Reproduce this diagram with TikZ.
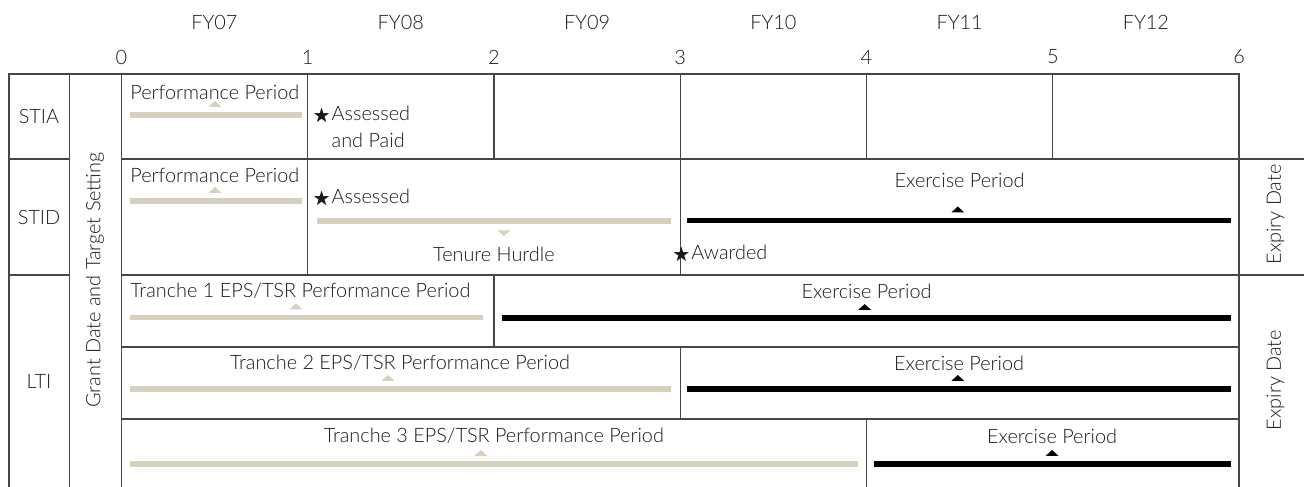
\documentclass[tikz,border=0pt]{standalone}
\usepackage{fontspec}
\setmainfont{Lato Light}
\usepackage{amssymb}
\usetikzlibrary{positioning}
\definecolor{tanbar}{RGB}{214,208,190}
\definecolor{gridgray}{RGB}{70,70,70}
\definecolor{inkgray}{RGB}{25,25,25}
\tikzset{
  cellline/.style={draw=gridgray, line width=0.7pt},
  perf/.style={draw=tanbar, line width=3pt},
  exer/.style={draw=black, line width=3pt},
  lbl/.style={font=\fontsize{11.3}{15.3}\selectfont, text=inkgray, inner sep=0pt},
}
\newcommand{\awardstar}{{\fontsize{10}{10}\selectfont$\bigstar$}}
\newcommand{\uptick}[3]{\fill[#3] (#1,#2) ++(-0.13cm,0.16cm) -- ++(0.26cm,0) -- ++(-0.13cm,0.12cm) -- cycle;}
\newcommand{\downtick}[3]{\fill[#3] (#1,#2) ++(-0.13cm,-0.19cm) -- ++(0.26cm,0) -- ++(-0.13cm,-0.11cm) -- cycle;}

\begin{document}
\begin{tikzpicture}[x=3.726cm, y=-1cm]
    \useasboundingbox (-0.6511,0) rectangle (6.3484,9.74);

    % Years and ticks
    \foreach \t/\fy in {0/07,1/08,2/09,3/10,4/11,5/12}
        \node[lbl] (fy\fy) at (\t+0.5,0.44) {FY\fy};
    \foreach \t in {0,...,6}
        \node[lbl] (tick\t) at (\t,1.14) {\t};

    % Table lines
    \draw[cellline] (-0.6028,9.74) -- (-0.6028,1.48) -- (6,1.48) -- (6,9.74);
    \draw[cellline] (-0.2775,1.48) -- (-0.2775,9.74);
    \draw[cellline] (0,1.48) -- (0,9.74);
    \draw[cellline] (-0.6028,3.18) -- (-0.2775,3.18) (0,3.18) -- (6.3484,3.18);
    \draw[cellline] (-0.6028,5.5) -- (-0.2775,5.5) (0,5.5) -- (6.3484,5.5);
    \draw[cellline] (0,6.94) -- (6,6.94) (0,8.38) -- (6,8.38);
    \foreach \t in {1,...,5}
        \draw[cellline] (\t,1.48) -- (\t,3.18);
    \draw[cellline] (1,3.18) -- (1,5.5) (3,3.18) -- (3,5.5);
    \draw[cellline] (2,5.5) -- (2,6.94) (3,6.94) -- (3,8.38) (4,8.38) -- (4,9.74);

    % Row headings
    \node[lbl] (stia) at (-0.4418,2.33) {STIA};
    \node[lbl] (stid) at (-0.4418,4.34) {STID};
    \node[lbl] (lti) at (-0.4418,7.62) {LTI};
    \node[lbl, rotate=90] (grant) at (-0.141,5.6) {Grant Date and Target Setting};
    \node[lbl, rotate=90] (expD) at (6.195,4.29) {Expiry Date};
    \node[lbl, rotate=90] (expL) at (6.195,7.60) {Expiry Date};

    % STIA
    \node[lbl, anchor=west] (perfA) at (0.047,1.84) {Performance Period};
    \draw[perf] (0.047,2.30) -- (0.970,2.30);
    \uptick{0.503}{2.30}{tanbar}
    \node[lbl, anchor=west, align=left] (assA) at (1.029,2.57)
        {\awardstar\hspace{1pt}Assessed\\\phantom{\awardstar}\hspace{1pt}and Paid};

    % STID
    \node[lbl, anchor=west] (perfD) at (0.047,3.50) {Performance Period};
    \draw[perf] (0.047,4.02) -- (0.970,4.02);
    \uptick{0.503}{4.02}{tanbar}
    \node[lbl, anchor=west] (assD) at (1.029,3.96) {\awardstar\hspace{1pt}Assessed};
    \draw[perf] (1.05,4.42) -- (2.95,4.42);
    \downtick{2.054}{4.42}{tanbar}
    \node[lbl] (tenure) at (2.0,5.08) {Tenure Hurdle};
    \node[lbl] (exD) at (4.5,3.60) {Exercise Period};
    \draw[exer] (3.036,4.41) -- (5.956,4.41);
    \uptick{4.49}{4.41}{black}
    \node[lbl, anchor=west] (awD) at (2.96,5.08) {\awardstar\hspace{1pt}Awarded};

    % LTI tranche 1
    \node[lbl, anchor=west] (tr1) at (0.047,5.82) {Tranche 1 EPS/TSR Performance Period};
    \draw[perf] (0.047,6.35) -- (1.942,6.35);
    \uptick{0.938}{6.35}{tanbar}
    \node[lbl] (ex1) at (4.0,5.82) {Exercise Period};
    \draw[exer] (2.044,6.36) -- (5.956,6.36);
    \uptick{3.99}{6.36}{black}

    % LTI tranche 2
    \node[lbl] (tr2) at (1.496,7.26) {Tranche 2 EPS/TSR Performance Period};
    \draw[perf] (0.047,7.78) -- (2.95,7.78);
    \uptick{1.432}{7.78}{tanbar}
    \node[lbl] (ex2) at (4.497,7.26) {Exercise Period};
    \draw[exer] (3.036,7.78) -- (5.956,7.78);
    \uptick{4.49}{7.78}{black}

    % LTI tranche 3
    \node[lbl] (tr3) at (2.0,8.72) {Tranche 3 EPS/TSR Performance Period};
    \draw[perf] (0.047,9.28) -- (3.954,9.28);
    \uptick{1.93}{9.28}{tanbar}
    \node[lbl] (ex3) at (4.996,8.72) {Exercise Period};
    \draw[exer] (4.04,9.28) -- (5.956,9.28);
    \uptick{4.996}{9.28}{black}
\end{tikzpicture}
\end{document}
